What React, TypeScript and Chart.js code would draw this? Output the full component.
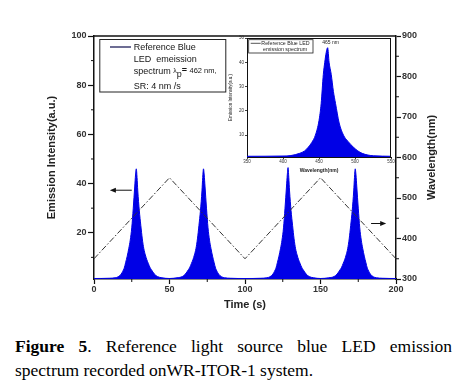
import React, { useEffect, useRef } from "react";
import { Chart, registerables } from "chart.js";
Chart.register(...registerables);

// ---------- data ----------
const scan1Time = [0, 10, 14, 16, 18, 19, 20, 21, 22, 23, 24, 25, 26, 27, 27.5, 28, 28.5, 29, 30, 31, 32, 33, 34, 35, 36, 37, 38, 40, 42, 45, 50];
const scan1Intensity = [1.4, 1.5, 1.7, 2.1, 3.2, 4.3, 5.6, 8, 10.5, 13.5, 17, 22, 30, 39, 43.5, 46, 42.5, 37, 29, 23, 17.5, 13.5, 11, 9, 7.5, 6, 5, 3.2, 2.2, 1.7, 1.4];
const scan2Time = [55, 58.5, 60.5, 62.5, 63.5, 64.5, 65.5, 66.5, 67.5, 68.5, 69.5, 70.5, 71.5, 72, 72.5, 73, 73.5, 74.5, 75.5, 76.5, 77.5, 78.5, 79.5, 80.5, 81.5, 82.5, 84.5, 86.5, 90.5, 100];
const scan2Intensity = [1.7, 2.2, 3.2, 5, 6, 7.5, 9, 11, 13.5, 17.5, 23, 29, 37, 42.5, 46, 43.5, 39, 30, 22, 17, 13.5, 10.5, 8, 5.6, 4.3, 3.2, 2.1, 1.7, 1.5, 1.4];
const scan3Time = [110.5, 114.5, 116.5, 118.5, 119.5, 120.5, 121.5, 122.5, 123.5, 124.5, 125.5, 126.5, 127.5, 128, 128.5, 129, 129.5, 130.5, 131.5, 132.5, 133.5, 134.5, 135.5, 136.5, 137.5, 138.5, 140.5, 142.5, 145.5, 150];
const scan3Intensity = [1.5, 1.7, 2.1, 3.2, 4.3, 5.6, 8, 10.5, 13.5, 17, 22, 30, 39, 43.5, 46.5, 42.5, 37, 29, 23, 17.5, 13.5, 11, 9, 7.5, 6, 5, 3.2, 2.2, 1.7, 1.4];
const scan4Time = [155.5, 159, 161, 163, 164, 165, 166, 167, 168, 169, 170, 171, 172, 172.5, 173, 173.5, 174, 175, 176, 177, 178, 179, 180, 181, 182, 183, 185, 187, 191, 200];
const scan4Intensity = [1.7, 2.2, 3.2, 5, 6, 7.5, 9, 11, 13.5, 17.5, 23, 29, 37, 42.5, 46, 43.5, 39, 30, 22, 17, 13.5, 10.5, 8, 5.6, 4.3, 3.2, 2.1, 1.7, 1.5, 1.4];

const sweepTime = [0, 50, 100, 150, 200];
const sweepWavelength = [350, 550, 350, 550, 350];

const timeTicks = [0, 50, 100, 150, 200];
const timeMinorTicks = [25, 75, 125, 175];
const intensityTicks = [20, 40, 60, 80, 100];
const intensityMinorTicks = [10, 30, 50, 70, 90];
const wavelengthTicks = [300, 400, 500, 600, 700, 800, 900];
const wavelengthMinorTicks = [350, 450, 550, 650, 750, 850];

const spectrumWavelength = [350, 400, 411, 423, 430, 435, 440, 445, 450, 453, 456, 458, 460, 462, 464, 467, 470, 473, 478, 484, 490, 498, 504, 510, 518, 526, 550];
const spectrumIntensity = [1.3, 1.4, 1.6, 2.5, 3.5, 5, 7, 10, 16, 23, 35, 40, 44, 46, 40, 35, 28, 23, 15, 10, 7.5, 5, 3.5, 2.5, 1.8, 1.5, 1.3];
const insetWavelengthTicks = [350, 400, 450, 500, 550];
const insetIntensityTicks = [10, 20, 30, 40, 50];

// ---------- styling ----------
const FONT = "'Liberation Sans', Arial, Helvetica, sans-serif";
const BLUE = "#0000e6";
const AXIS = "#111";

const pts = (xs: number[], ys: number[]) => xs.map((x, i) => ({ x, y: ys[i] }));

function arrow(ctx: CanvasRenderingContext2D, x1: number, y1: number, x2: number, y2: number) {
  const dir = Math.sign(x2 - x1);
  ctx.beginPath();
  ctx.moveTo(x1, y1);
  ctx.lineTo(x2 - dir * 4, y2);
  ctx.stroke();
  ctx.beginPath();
  ctx.moveTo(x2, y2);
  ctx.lineTo(x2 - dir * 6, y2 - 2.5);
  ctx.lineTo(x2 - dir * 6, y2 + 2.5);
  ctx.closePath();
  ctx.fill();
}

const mainDecor = {
  id: "mainDecor",
  afterDraw(chart: any) {
    const { ctx, chartArea: a, scales } = chart;
    const sx = scales.x, sy = scales.y, sy2 = scales.y2;
    ctx.save();
    ctx.strokeStyle = AXIS;
    ctx.fillStyle = AXIS;
    ctx.lineWidth = 1.5;
    ctx.beginPath();
    ctx.moveTo(a.left, a.top);
    ctx.lineTo(a.right, a.top);
    ctx.stroke();
    ctx.lineWidth = 1;
    ctx.beginPath();
    timeMinorTicks.forEach((v) => {
      const p = sx.getPixelForValue(v);
      ctx.moveTo(p, a.bottom);
      ctx.lineTo(p, a.bottom + 3);
    });
    intensityMinorTicks.forEach((v) => {
      const p = sy.getPixelForValue(v);
      ctx.moveTo(a.left, p);
      ctx.lineTo(a.left - 3, p);
    });
    wavelengthMinorTicks.forEach((v) => {
      const p = sy2.getPixelForValue(v);
      ctx.moveTo(a.right, p);
      ctx.lineTo(a.right + 3, p);
    });
    ctx.stroke();

    // arrows
    ctx.lineWidth = 1;
    const ly = sy.getPixelForValue(37.3);
    arrow(ctx, sx.getPixelForValue(25), ly, sx.getPixelForValue(10.5), ly);
    const ry = sy2.getPixelForValue(437);
    arrow(ctx, sx.getPixelForValue(183.5), ry, sx.getPixelForValue(193.5), ry);

    // right axis title (reads bottom to top)
    ctx.save();
    ctx.translate(chart.width - 42.3, (a.top + a.bottom) / 2);
    ctx.rotate(-Math.PI / 2);
    ctx.font = `bold 11px ${FONT}`;
    ctx.fillStyle = "#222";
    ctx.textAlign = "center";
    ctx.textBaseline = "middle";
    ctx.fillText("Wavelength(nm)", 0, 0);
    ctx.restore();

    // legend box
    const bx = a.left + 5.3, by = a.top + 3;
    ctx.lineWidth = 1;
    ctx.strokeStyle = "#222";
    ctx.strokeRect(bx + 0.5, by + 0.5, 126, 52.5);
    ctx.strokeStyle = "#3c3c70";
    ctx.lineWidth = 1.5;
    ctx.beginPath();
    ctx.moveTo(bx + 10.7, by + 8);
    ctx.lineTo(bx + 31.7, by + 8);
    ctx.stroke();
    ctx.fillStyle = "#151515";
    ctx.textBaseline = "middle";
    ctx.textAlign = "left";
    const tx = bx + 34.4;
    ctx.font = `9px ${FONT}`;
    ctx.fillText("Reference Blue", tx, by + 8.3);
    ctx.fillText("LED  emeission", tx, by + 20.3);
    const s1 = "spectrum ";
    ctx.fillText(s1, tx, by + 33);
    let cx = tx + ctx.measureText(s1).width;
    ctx.font = `7px ${FONT}`;
    ctx.fillText("λ", cx, by + 32);
    cx += ctx.measureText("λ").width;
    ctx.font = `9px ${FONT}`;
    ctx.fillText("p", cx, by + 35.5);
    cx += ctx.measureText("p").width;
    ctx.font = `bold 9px ${FONT}`;
    ctx.fillText("=", cx, by + 32);
    cx += ctx.measureText("= ").width;
    ctx.font = `7.5px ${FONT}`;
    ctx.fillText("462 nm,", cx, by + 32);
    ctx.font = `9px ${FONT}`;
    ctx.fillText("SR: 4 nm /s", tx, by + 47.7);
    ctx.restore();
  },
};

const insetDecor = {
  id: "insetDecor",
  afterDraw(chart: any) {
    const { ctx, chartArea: a, scales } = chart;
    ctx.save();
    ctx.strokeStyle = AXIS;
    ctx.lineWidth = 1;
    ctx.beginPath();
    ctx.moveTo(a.left, a.top + 0.5);
    ctx.lineTo(a.right, a.top + 0.5);
    ctx.moveTo(a.right - 0.5, a.top);
    ctx.lineTo(a.right - 0.5, a.bottom);
    ctx.stroke();
    // legend
    const bx = a.left + 1.7, by = a.top + 1.7;
    ctx.strokeStyle = "#222";
    ctx.lineWidth = 0.8;
    ctx.strokeRect(bx, by, 64.3, 13.3);
    ctx.strokeStyle = "#555";
    ctx.lineWidth = 1;
    ctx.beginPath();
    ctx.moveTo(bx + 2, by + 3.6);
    ctx.lineTo(bx + 12, by + 3.6);
    ctx.stroke();
    ctx.fillStyle = "#222";
    ctx.font = `5.3px ${FONT}`;
    ctx.textBaseline = "middle";
    ctx.textAlign = "left";
    ctx.fillText("Reference Blue LED", bx + 12.6, by + 3.6);
    ctx.fillText("emission spectrum", bx + 14.3, by + 10);
    ctx.textAlign = "center";
    ctx.font = `5px ${FONT}`;
    ctx.fillText("465 nm", scales.x.getPixelForValue(466), scales.y.getPixelForValue(48));
    ctx.restore();
  },
};

function mainConfig(): any {
  const emission = [
    ...pts(scan1Time, scan1Intensity),
    ...pts(scan2Time, scan2Intensity),
    ...pts(scan3Time, scan3Intensity),
    ...pts(scan4Time, scan4Intensity),
  ];
  const tickFont = { family: FONT, size: 9, weight: "bold" };
  const titleFont = { family: FONT, size: 11, weight: "bold" };
  return {
    type: "line",
    data: {
      datasets: [
        {
          label: "sweep",
          data: pts(sweepTime, sweepWavelength),
          yAxisID: "y2",
          borderColor: "#333",
          borderWidth: 1,
          borderDash: [6, 2, 1.5, 2],
          pointRadius: 0,
          fill: false,
          order: 1,
        },
        {
          label: "emission",
          data: emission,
          yAxisID: "y",
          borderColor: BLUE,
          backgroundColor: BLUE,
          borderWidth: 1,
          pointRadius: 0,
          fill: "start",
          cubicInterpolationMode: "monotone",
          order: 2,
        },
      ],
    },
    options: {
      responsive: false,
      animation: false,
      devicePixelRatio: 1,
      layout: { padding: { top: 36, left: 0, right: 0, bottom: 0 } },
      plugins: { legend: { display: false }, tooltip: { enabled: false } },
      scales: {
        x: {
          type: "linear",
          position: "bottom",
          min: 0,
          max: 200,
          afterBuildTicks: (s: any) => { s.ticks = timeTicks.map((v) => ({ value: v })); },
          afterFit: (s: any) => { s.height = 41; },
          ticks: { font: tickFont, color: "#333", padding: 0, autoSkip: false, maxRotation: 0 },
          grid: { drawOnChartArea: false, tickLength: 5, tickColor: AXIS, tickWidth: 1.2 },
          border: { color: AXIS, width: 1.5 },
          title: { display: true, text: "Time (s)", font: titleFont, color: "#222", padding: { top: 0, bottom: 8.4 } },
        },
        y: {
          type: "linear",
          position: "left",
          min: 1.2,
          max: 100,
          afterBuildTicks: (s: any) => { s.ticks = intensityTicks.map((v) => ({ value: v })); },
          afterFit: (s: any) => { s.width = 94; },
          ticks: { font: tickFont, color: "#333", padding: 1.5, autoSkip: false },
          grid: { drawOnChartArea: false, tickLength: 6, tickColor: AXIS, tickWidth: 1.2 },
          border: { color: AXIS, width: 1.5 },
          title: { display: true, text: "Emission Intensity(a.u.)", font: titleFont, color: "#222", padding: { top: 45.4, bottom: 0 } },
        },
        y2: {
          type: "linear",
          position: "right",
          min: 300,
          max: 900,
          afterBuildTicks: (s: any) => { s.ticks = wavelengthTicks.map((v) => ({ value: v })); },
          afterFit: (s: any) => { s.width = 78; },
          ticks: { font: tickFont, color: "#333", padding: 1, autoSkip: false },
          grid: { drawOnChartArea: false, tickLength: 5, tickColor: AXIS, tickWidth: 1.2 },
          border: { color: AXIS, width: 1.5 },
          title: { display: false },
        },
      },
    },
    plugins: [mainDecor],
  };
}

function insetConfig(): any {
  const tickFont = { family: FONT, size: 4.5 };
  const titleFont = { family: FONT, size: 5, weight: "bold" };
  return {
    type: "line",
    data: {
      datasets: [
        {
          label: "Reference Blue LED emission spectrum",
          data: pts(spectrumWavelength, spectrumIntensity),
          borderColor: BLUE,
          backgroundColor: BLUE,
          borderWidth: 1,
          pointRadius: 0,
          fill: "start",
          cubicInterpolationMode: "monotone",
        },
      ],
    },
    options: {
      responsive: false,
      animation: false,
      devicePixelRatio: 1,
      layout: { padding: { top: 4, left: 0, right: 9, bottom: 0 } },
      plugins: { legend: { display: false }, tooltip: { enabled: false } },
      scales: {
        x: {
          type: "linear",
          min: 350,
          max: 550,
          afterBuildTicks: (s: any) => { s.ticks = insetWavelengthTicks.map((v) => ({ value: v })); },
          afterFit: (s: any) => { s.height = 23; },
          ticks: { font: tickFont, color: "#333", padding: 0, autoSkip: false, maxRotation: 0 },
          grid: { drawOnChartArea: false, tickLength: 2, tickColor: AXIS, tickWidth: 0.8 },
          border: { color: AXIS, width: 1 },
          title: { display: true, text: "Wavelength(nm)", font: titleFont, color: "#222", padding: { top: 0, bottom: 6.3 } },
        },
        y: {
          type: "linear",
          min: 1,
          max: 50,
          afterBuildTicks: (s: any) => { s.ticks = insetIntensityTicks.map((v) => ({ value: v })); },
          afterFit: (s: any) => { s.width = 19; },
          ticks: { font: tickFont, color: "#333", padding: 1, autoSkip: false },
          grid: { drawOnChartArea: false, tickLength: 2, tickColor: AXIS, tickWidth: 0.8 },
          border: { color: AXIS, width: 1 },
          title: { display: true, text: "Emission Intensity(a.u.)", font: { family: FONT, size: 4.5 }, color: "#222", padding: { top: 0, bottom: 0 } },
        },
      },
    },
    plugins: [insetDecor],
  };
}

export default function App() {
  const mainRef = useRef<HTMLCanvasElement>(null);
  const insetRef = useRef<HTMLCanvasElement>(null);
  useEffect(() => {
    document.body.style.margin = "0";
    const main = new Chart(mainRef.current as HTMLCanvasElement, mainConfig());
    const inset = new Chart(insetRef.current as HTMLCanvasElement, insetConfig());
    return () => {
      main.destroy();
      inset.destroy();
    };
  }, []);
  return (
    <div style={{ position: "absolute", left: 0, top: 0, width: 474, height: 392, background: "#fff", overflow: "hidden" }}>
      <canvas ref={mainRef} width={474} height={320} style={{ position: "absolute", left: 0, top: 0, width: 474, height: 320 }} />
      <canvas ref={insetRef} width={172} height={146} style={{ position: "absolute", left: 228, top: 34, width: 172, height: 146 }} />
      <div
        style={{
          position: "absolute",
          left: 15,
          top: 333.6,
          width: 437,
          fontFamily: "'Liberation Serif', 'Times New Roman', serif",
          fontSize: 17.5,
          lineHeight: "24px",
          color: "#000",
        }}
      >
        <div style={{ textAlign: "justify", textAlignLast: "justify" as any, whiteSpace: "nowrap" as any }}>
          <b>Figure 5</b>. Reference light source blue LED emission
        </div>
        <div>spectrum recorded onWR-ITOR-1 system.</div>
      </div>
    </div>
  );
}
